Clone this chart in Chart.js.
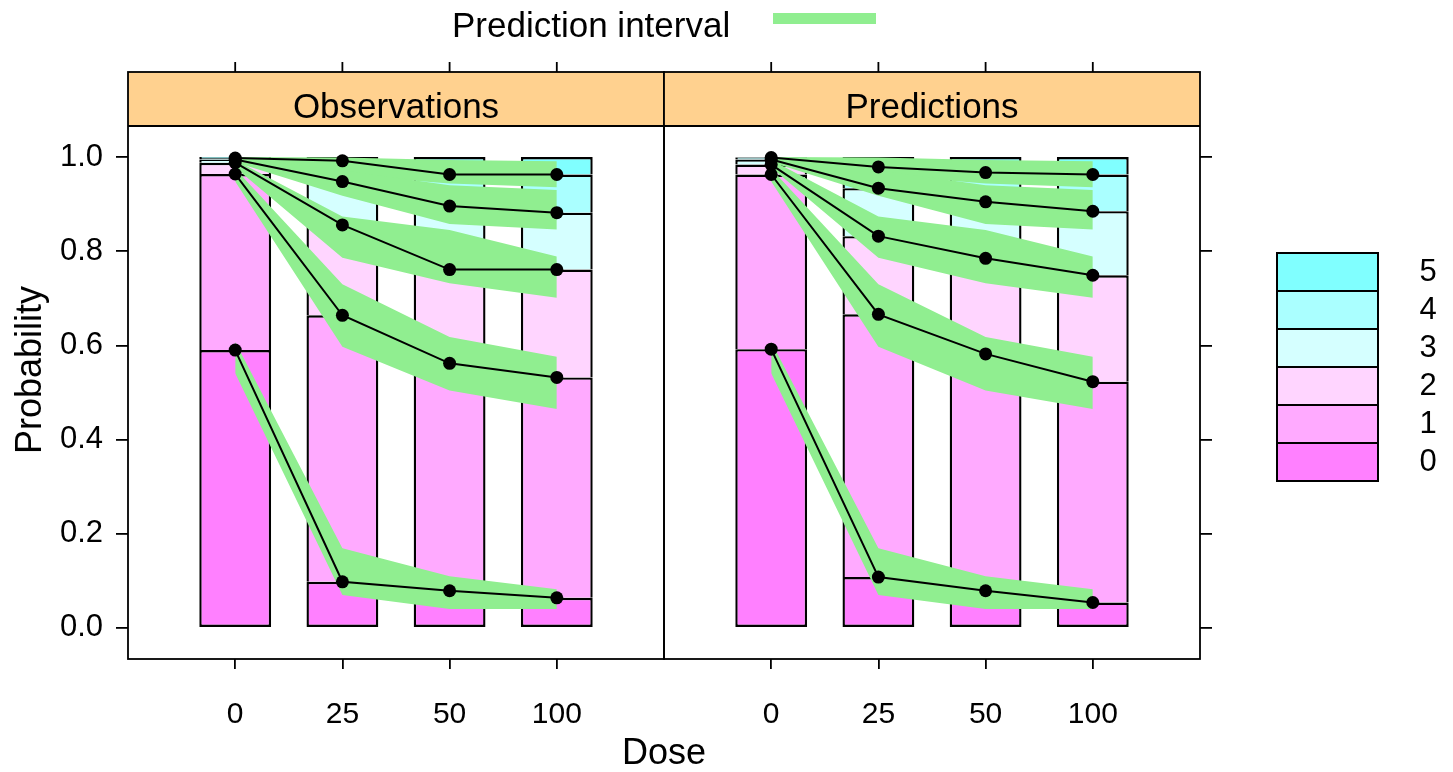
<!DOCTYPE html>
<html>
<head>
<meta charset="utf-8">
<script src="https://cdn.jsdelivr.net/npm/chart.js@4.4.1/dist/chart.umd.min.js"></script>
<style>
  html, body { margin: 0; padding: 0; background: #fff; }
  body { width: 1453px; height: 772px; position: relative; overflow: hidden;
         font-family: "Liberation Sans", Arial, sans-serif; color: #000; }
  canvas { position: absolute; top: 0; }
  .t { position: absolute; white-space: nowrap; line-height: 1; }
  .key { position: absolute; box-sizing: border-box; border: 2px solid #000; }
</style>
</head>
<body>
<canvas id="obsPanel" width="700" height="772" style="left:0px"></canvas>
<canvas id="predPanel" width="823" height="772" style="left:630px"></canvas>
<div id="overlay"></div>
<script>
// ---- data -------------------------------------------------------------
const doseLabels = ['0', '25', '50', '100'];
const yTickValues = [0, 0.2, 0.4, 0.6, 0.8, 1.0];
const categoryNames = ['0', '1', '2', '3', '4', '5'];
const categoryColors = ['#FF80FF', '#FFAAFF', '#FFD5FF', '#D5FFFF', '#AAFFFF', '#80FFFF'];
const panelTitles = ['Observations', 'Predictions'];

// observed cumulative proportions P(Y <= k) per dose
const obsCum0 = [0.590, 0.098, 0.079, 0.064];
const obsCum1 = [0.964, 0.664, 0.562, 0.532];
const obsCum2 = [0.988, 0.856, 0.761, 0.761];
const obsCum3 = [0.995, 0.948, 0.896, 0.882];
const obsCum4 = [0.998, 0.992, 0.963, 0.963];

// predicted (median) cumulative proportions per dose
const predCum0 = [0.592, 0.108, 0.079, 0.054];
const predCum1 = [0.963, 0.666, 0.582, 0.523];
const predCum2 = [0.984, 0.832, 0.785, 0.749];
const predCum3 = [0.995, 0.934, 0.905, 0.885];
const predCum4 = [0.999, 0.979, 0.967, 0.963];

// prediction interval bounds of each cumulative proportion
const piLo0 = [0.541, 0.070, 0.040, 0.040];
const piHi0 = [0.608, 0.169, 0.110, 0.082];
const piLo1 = [0.948, 0.597, 0.504, 0.465];
const piHi1 = [0.975, 0.730, 0.618, 0.576];
const piLo2 = [0.978, 0.786, 0.732, 0.701];
const piHi2 = [0.994, 0.874, 0.845, 0.789];
const piLo3 = [0.989, 0.918, 0.858, 0.846];
const piHi3 = [0.999, 0.972, 0.940, 0.930];
const piLo4 = [0.995, 0.962, 0.944, 0.936];
const piHi4 = [1.000, 0.999, 0.994, 0.991];

// ---- styling ----------------------------------------------------------
const FONT = '"Liberation Sans", Arial, sans-serif';
const STRIP_BG = '#FFD18F';
const BAND_GREEN = '#90EE90';
const STRIP_TOP = 72;

const obsCum = [obsCum0, obsCum1, obsCum2, obsCum3, obsCum4];
const predCum = [predCum0, predCum1, predCum2, predCum3, predCum4];
const piLo = [piLo0, piLo1, piLo2, piLo3, piLo4];
const piHi = [piHi0, piHi1, piHi2, piHi3, piHi4];

const toPoints = arr => arr.map((v, i) => ({ x: i + 1, y: v }));

function buildDatasets(cum) {
  const ds = [];
  // stacked proportion bars, one dataset per response category;
  // each segment above the first skips its bottom edge so boundaries stay single lines
  categoryColors.forEach((col, k) => {
    ds.push({
      type: 'bar', order: 3, grouped: false,
      data: doseLabels.map((d, i) => ({
        x: i + 1,
        y: [k === 0 ? 0 : cum[k - 1][i], k === categoryColors.length - 1 ? 1 : cum[k][i]]
      })),
      backgroundColor: col, borderColor: '#000', borderWidth: 2.4,
      borderSkipped: k === 0 ? false : 'bottom', inflateAmount: 0,
      barPercentage: 0.67, categoryPercentage: 1
    });
  });
  // prediction interval bands (upper filled down to lower)
  piHi.forEach((hi, k) => {
    ds.push({
      type: 'line', order: 2, data: toPoints(hi), fill: '+1',
      backgroundColor: BAND_GREEN, borderColor: 'rgba(0,0,0,0)', borderWidth: 0,
      pointRadius: 0, tension: 0
    });
    ds.push({
      type: 'line', order: 2, data: toPoints(piLo[k]), fill: false,
      borderColor: 'rgba(0,0,0,0)', borderWidth: 0, pointRadius: 0, tension: 0
    });
  });
  // cumulative proportion lines with points
  cum.forEach(series => {
    ds.push({
      type: 'line', order: 1, data: toPoints(series), fill: false,
      borderColor: '#000', borderWidth: 2, tension: 0,
      pointRadius: 6.5, pointBackgroundColor: '#000', pointBorderWidth: 0,
      pointHoverRadius: 6.5
    });
  });
  return ds;
}

// strip background, panel frame and top tick marks
const panelFrame = {
  id: 'panelFrame',
  beforeDraw(chart) {
    const { ctx, chartArea: a } = chart;
    ctx.save();
    ctx.fillStyle = STRIP_BG;
    ctx.fillRect(a.left, STRIP_TOP, a.right - a.left, a.top - STRIP_TOP);
    ctx.restore();
  },
  afterDraw(chart) {
    const { ctx, chartArea: a } = chart;
    const xs = chart.scales.x;
    ctx.save();
    ctx.strokeStyle = '#000';
    ctx.lineWidth = 1.8;
    ctx.strokeRect(a.left, STRIP_TOP, a.right - a.left, a.bottom - STRIP_TOP);
    ctx.beginPath();
    ctx.moveTo(a.left, a.top);
    ctx.lineTo(a.right, a.top);
    xs.ticks.forEach(t => {
      const px = xs.getPixelForValue(t.value);
      ctx.moveTo(px, STRIP_TOP);
      ctx.lineTo(px, STRIP_TOP - 10);
    });
    ctx.stroke();
    ctx.restore();
  }
};

function makePanel(id, cum, side, padding) {
  const tickFont = { family: FONT, size: 30 };
  return new Chart(document.getElementById(id), {
    type: 'bar',
    data: { datasets: buildDatasets(cum) },
    plugins: [panelFrame],
    options: {
      responsive: false, animation: false, devicePixelRatio: 1,
      layout: { padding },
      plugins: { legend: { display: false }, tooltip: { enabled: false } },
      scales: {
        x: {
          type: 'linear', min: 0, max: 5, offset: false,
          afterBuildTicks: s => { s.ticks = doseLabels.map((_, i) => ({ value: i + 1 })); },
          afterFit: s => { s.height = 113; },
          ticks: {
            callback: (v, i) => doseLabels[i], font: tickFont, color: '#000',
            padding: 28, maxRotation: 0, autoSkip: false
          },
          grid: { offset: false, drawOnChartArea: false, drawTicks: true, tickLength: 10, color: '#000', lineWidth: 1.8 },
          border: { display: false }
        },
        y: {
          type: 'linear', position: side, min: -0.066, max: 1.066,
          afterBuildTicks: s => { s.ticks = yTickValues.map(v => ({ value: v })); },
          afterFit: s => { s.width = side === 'left' ? 128 : 12; },
          ticks: {
            display: side === 'left',
            callback: v => v.toFixed(1), font: { family: FONT, size: 31 }, color: '#000', padding: 13
          },
          grid: { offset: false, drawOnChartArea: false, drawTicks: true, tickLength: 12, color: '#000', lineWidth: 1.8 },
          border: { display: false }
        }
      }
    }
  });
}

makePanel('obsPanel', obsCum, 'left', { top: 126, right: 36, left: 0, bottom: 0 });
makePanel('predPanel', predCum, 'right', { top: 126, right: 241, left: 34, bottom: 0 });

// ---- text, key and titles -------------------------------------------
const overlay = document.getElementById('overlay');
function addText(text, css) {
  const el = document.createElement('div');
  el.className = 't';
  el.textContent = text;
  Object.assign(el.style, css);
  overlay.appendChild(el);
  return el;
}

addText('Prediction interval', { left: '452px', top: '7px', fontSize: '35px' });
const piKey = document.createElement('div');
Object.assign(piKey.style, { position: 'absolute', left: '773px', top: '13px', width: '103px', height: '11px', background: BAND_GREEN });
overlay.appendChild(piKey);

// strip titles centred over each panel
[[128, 664], [664, 1200]].forEach(([l, r], i) => {
  addText(panelTitles[i], { left: l + 'px', width: (r - l) + 'px', textAlign: 'center', top: '88px', fontSize: '35px' });
});

addText('Dose', { left: '564px', width: '200px', textAlign: 'center', top: '734px', fontSize: '36px' });
addText('Probability', { left: '-71px', width: '200px', textAlign: 'center', top: '352px', height: '36px',
  fontSize: '36px', transform: 'rotate(-90deg)', transformOrigin: '100px 18px' });

// colour key, top = highest category
const keyTop = 252, keyH = 38;
categoryColors.slice().reverse().forEach((col, j) => {
  const box = document.createElement('div');
  box.className = 'key';
  Object.assign(box.style, { left: '1276px', top: (keyTop + j * keyH) + 'px', width: '103px',
    height: (keyH + 2) + 'px', background: col });
  overlay.appendChild(box);
  addText(categoryNames[categoryNames.length - 1 - j], { left: '1400px', width: '56px', textAlign: 'center',
    top: (keyTop + j * keyH) + 'px', lineHeight: keyH + 'px', fontSize: '31px' });
});
</script>
</body>
</html>
